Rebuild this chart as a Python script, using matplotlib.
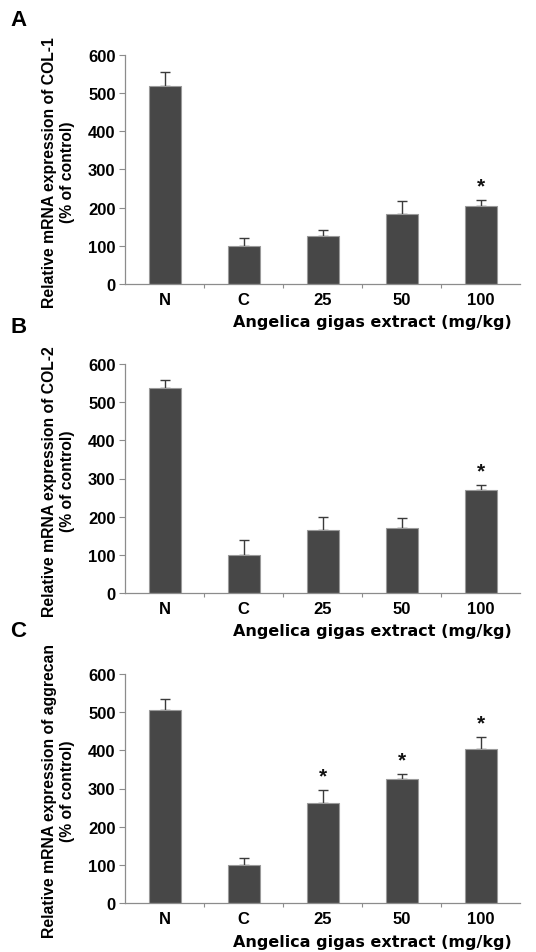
import matplotlib
matplotlib.use("Agg")
import matplotlib.pyplot as plt
import numpy as np

categories = ["N", "C", "25", "50", "100"]
col1_mean = [518, 100, 125, 183, 204]
col1_err = [38, 21, 17, 34, 15]
col1_sig = [False, False, False, False, True]
col2_mean = [538, 99, 164, 169, 269]
col2_err = [20, 40, 34, 27, 15]
col2_sig = [False, False, False, False, True]
agg_mean = [506, 99, 262, 326, 403]
agg_err = [28, 20, 33, 12, 31]
agg_sig = [False, False, True, True, True]
panel_letters = ["A", "B", "C"]
ylabels = ["Relative mRNA expression of COL-1\n(% of control)",
           "Relative mRNA expression of COL-2\n(% of control)",
           "Relative mRNA expression of aggrecan\n(% of control)"]
xlabel = "Angelica gigas extract (mg/kg)"
yticks = [0, 100, 200, 300, 400, 500, 600]

W, H = 536, 953
fig = plt.figure(figsize=(W/100, H/100), dpi=100)
fig.patch.set_facecolor("white")

panels = [(col1_mean, col1_err, col1_sig), (col2_mean, col2_err, col2_sig), (agg_mean, agg_err, agg_sig)]
axis_bottom_px = [285, 594, 904]
axis_top_px = [55.7, 365, 675]
letter_y_px = [20, 328, 632]
xlabel_y_px = [322, 632, 943]
left_px, right_px = 125.3, 520.3

font = "Liberation Sans"
barcol = "#474747"
edgecol = "#9a9a9a"
axcol = "#8c8c8c"

for i, (mean, err, sig) in enumerate(panels):
    b = 1 - axis_bottom_px[i]/H
    h = (axis_bottom_px[i] - axis_top_px[i])/H
    ax = fig.add_axes([left_px/W, b, (right_px-left_px)/W, h])
    x = np.arange(len(categories))
    ax.bar(x, mean, width=0.4, color=barcol, edgecolor=edgecol, linewidth=0.8, zorder=2)
    ax.errorbar(x, mean, yerr=[np.zeros(len(err)), err], fmt="none", ecolor="#3a3a3a",
                elinewidth=1.0, capsize=3.5, capthick=1.0, zorder=1)
    for xi, m, e, s in zip(x, mean, err, sig):
        if s:
            ax.text(xi, m + e + 12, "*", ha="center", va="bottom", fontsize=15,
                    fontweight="bold", family=font, color="#111111")
    ax.set_xlim(-0.5, 4.5)
    ax.set_ylim(0, 600)
    ax.set_yticks(yticks)
    ax.set_yticklabels([str(t) for t in yticks], fontsize=12, fontweight="bold", family=font)
    ax.set_xticks(x)
    ax.set_xticklabels(categories, fontsize=12, fontweight="bold", family=font)
    ax.set_xticks(np.arange(0.5, 4.5, 1.0), minor=True)
    ax.tick_params(axis="x", which="major", length=0, pad=6)
    ax.tick_params(axis="x", which="minor", length=3, color=axcol, width=0.8)
    ax.tick_params(axis="y", length=4, color=axcol, width=0.8, pad=3)
    for sp in ["top", "right"]:
        ax.spines[sp].set_visible(False)
    for sp in ["left", "bottom"]:
        ax.spines[sp].set_color(axcol)
        ax.spines[sp].set_linewidth(0.9)
    ax.set_facecolor("white")
    ycen = 1 - (axis_bottom_px[i] + axis_top_px[i])/2/H - 2/H
    fig.text(58.5/W, ycen, ylabels[i], rotation=90, ha="center", va="center",
             fontsize=11.3, fontweight="bold", family=font, linespacing=1.3)
    fig.text(10/W, 1 - letter_y_px[i]/H, panel_letters[i], ha="left", va="center",
             fontsize=16, fontweight="bold", family=font)
    fig.text(512/W, 1 - xlabel_y_px[i]/H, xlabel, ha="right", va="center",
             fontsize=11.5, fontweight="bold", family="DejaVu Sans")

fig.savefig("out.png", dpi=100, facecolor="white")
